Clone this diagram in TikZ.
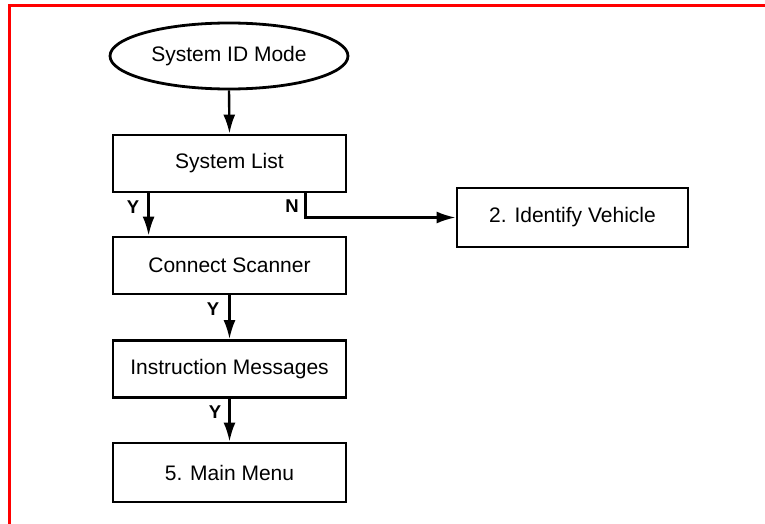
\documentclass[tikz,border=0pt]{standalone}
\usepackage{fontspec}
\setmainfont{Liberation Sans}
\usetikzlibrary{shapes.geometric}
\usetikzlibrary{arrows.meta}

\tikzset{
  stepbox/.style={draw, line width=2.8pt, minimum width=233pt, minimum height=57pt,
    inner sep=0pt, font=\fontsize{21}{25}\selectfont},
  startbox/.style={draw, ellipse, line width=2.8pt, minimum width=238pt, minimum height=66pt,
    inner sep=0pt, font=\fontsize{21}{25}\selectfont},
  flow/.style={line width=2.4pt, -{Latex[length=19pt,width=12pt]}},
  yn/.style={font=\fontsize{18.5}{20}\selectfont\bfseries, inner sep=0pt}
}

\begin{document}
\begin{tikzpicture}[x=1pt, y=-1pt]
    \useasboundingbox (0, 0) rectangle (765, 524);
    \draw[red, line width=3pt] (9.5, 524) -- (9.5, 6) -- (765, 6);

    \node[startbox] (idmode) at (229, 56)    {System ID Mode};
    \node[stepbox]  (syslist) at (229.5, 163.5) {System List};
    \node[stepbox]  (connect) at (229.5, 265.5) {Connect Scanner};
    \node[stepbox]  (instr)   at (229.5, 369)   {Instruction Messages};
    \node[stepbox, minimum height=59pt] (mainmenu) at (229.5, 472.5) {5. Main Menu};
    \node[stepbox, minimum width=231pt, minimum height=59pt] (ident) at (572.5, 217.5) {2. Identify Vehicle};

    \draw[flow] (idmode.south) -- (syslist.north);
    \draw[flow] ([xshift=37pt]syslist.south west) -- ([xshift=37pt]connect.north west);
    \draw[flow] ([xshift=-42pt]syslist.south east) |- (ident.west);
    \draw[flow] (connect.south) -- (instr.north);
    \draw[flow] (instr.south) -- (mainmenu.north);

    \draw (133, 207) node[yn] {Y}
          (292, 206) node[yn] {N}
          (213, 309) node[yn] {Y}
          (215, 412) node[yn] {Y};
\end{tikzpicture}
\end{document}
